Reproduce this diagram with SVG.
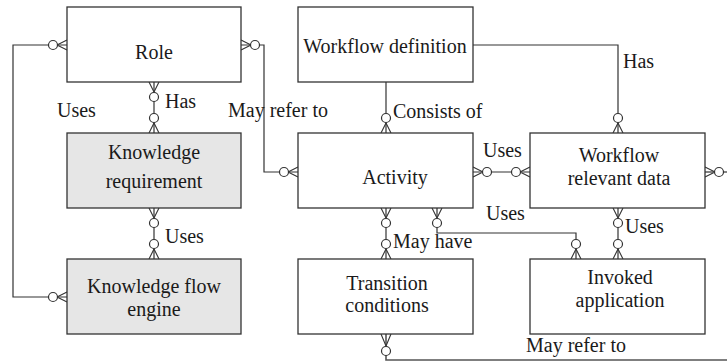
<svg xmlns="http://www.w3.org/2000/svg" width="727" height="362" viewBox="0 0 727 362">
<style>
.box{fill:#fff;stroke:#333;stroke-width:1.3}
.gray{fill:#e6e6e6}
.ln{fill:none;stroke:#333;stroke-width:1.2}
.cf{fill:none;stroke:#333;stroke-width:1.1}
.ci{fill:#fff;stroke:#333;stroke-width:1.2}
.c{text-anchor:middle}
</style>
<rect width="727" height="362" fill="#fff"/>
<g id="connectors">
  <path class="ln" d="M67 45 H13 V297 H67"/>
  <path class="ln" d="M241 45 H264 V172 H298"/>
  <path class="ln" d="M154 82 V133"/>
  <path class="ln" d="M154 208 V259"/>
  <path class="ln" d="M386 82 V133"/>
  <path class="ln" d="M473 45 H618 V133"/>
  <path class="ln" d="M473 172 H530"/>
  <path class="ln" d="M705 172 H727"/>
  <path class="ln" d="M386 208 V259"/>
  <path class="ln" d="M437 208 V233 H576 V259"/>
  <path class="ln" d="M618 208 V259"/>
  <path class="ln" d="M386 334 V360 H727" style="stroke:#555;stroke-width:1.6"/>
  <path class="cf" d="M57 45 L67 40 M57 45 L67 50 M57 297 L67 292 M57 297 L67 302"/>
  <path class="cf" d="M251 45 L241 40 M251 45 L241 50 M288 172 L298 167 M288 172 L298 177"/>
  <path class="cf" d="M154 92 L149 82 M154 92 L159 82 M154 123 L149 133 M154 123 L159 133"/>
  <path class="cf" d="M154 218 L149 208 M154 218 L159 208 M154 249 L149 259 M154 249 L159 259"/>
  <path class="cf" d="M386 123 L381 133 M386 123 L391 133 M618 123 L613 133 M618 123 L623 133"/>
  <path class="cf" d="M483 172 L473 167 M483 172 L473 177 M520 172 L530 167 M520 172 L530 177 M715 172 L705 167 M715 172 L705 177"/>
  <path class="cf" d="M386 218 L381 208 M386 218 L391 208 M386 249 L381 259 M386 249 L391 259"/>
  <path class="cf" d="M437 218 L432 208 M437 218 L442 208 M576 249 L571 259 M576 249 L581 259"/>
  <path class="cf" d="M618 218 L613 208 M618 218 L623 208 M618 249 L613 259 M618 249 L623 259"/>
  <path class="cf" d="M386 346 L381 334 M386 346 L391 334"/>
  <circle class="ci" cx="53" cy="45" r="4.5"/>
  <circle class="ci" cx="53" cy="297" r="4.5"/>
  <circle class="ci" cx="255" cy="45" r="4.5"/>
  <circle class="ci" cx="284" cy="172" r="4.5"/>
  <circle class="ci" cx="154" cy="97" r="4.5"/>
  <circle class="ci" cx="154" cy="118" r="4.5"/>
  <circle class="ci" cx="154" cy="223" r="4.5"/>
  <circle class="ci" cx="154" cy="244" r="4.5"/>
  <circle class="ci" cx="386" cy="118" r="4.5"/>
  <circle class="ci" cx="618" cy="118" r="4.5"/>
  <circle class="ci" cx="487" cy="172" r="4.5"/>
  <circle class="ci" cx="516" cy="172" r="4.5"/>
  <circle class="ci" cx="719" cy="172" r="4.5"/>
  <circle class="ci" cx="386" cy="223" r="4.5"/>
  <circle class="ci" cx="386" cy="244" r="4.5"/>
  <circle class="ci" cx="437" cy="223" r="4.5"/>
  <circle class="ci" cx="576" cy="244" r="4.5"/>
  <circle class="ci" cx="618" cy="223" r="4.5"/>
  <circle class="ci" cx="618" cy="244" r="4.5"/>
  <circle class="ci" cx="386" cy="351" r="4.5"/>
  <g font-family="Liberation Serif" font-size="20" fill="#1a1a1a">
  <text x="57" y="117">Uses</text>
  <text x="165" y="108">Has</text>
  <text x="228" y="117">May refer to</text>
  <text x="165" y="243">Uses</text>
  <text x="393" y="118">Consists of</text>
  <text x="623" y="68">Has</text>
  <text x="483" y="157">Uses</text>
  <text x="486" y="220">Uses</text>
  <text x="625" y="233">Uses</text>
  <text x="393" y="248">May have</text>
  <text x="526" y="352">May refer to</text>
  </g>
</g>
<g id="role" font-family="Liberation Serif" font-size="20" fill="#1a1a1a"><rect class="box" x="67" y="7" width="174" height="75"/><text class="c" x="154" y="59">Role</text></g>
<g id="knowledge-requirement" font-family="Liberation Serif" font-size="20" fill="#1a1a1a"><rect class="box gray" x="67" y="133" width="174" height="75"/><text class="c" x="154" y="159">Knowledge</text><text class="c" x="154" y="188">requirement</text></g>
<g id="knowledge-flow-engine" font-family="Liberation Serif" font-size="20" fill="#1a1a1a"><rect class="box gray" x="67" y="259" width="174" height="75"/><text class="c" x="154" y="293">Knowledge flow</text><text class="c" x="154" y="316">engine</text></g>
<g id="workflow-definition" font-family="Liberation Serif" font-size="20" fill="#1a1a1a"><rect class="box" x="298" y="7" width="175" height="75"/><text class="c" x="385" y="53">Workflow definition</text></g>
<g id="activity" font-family="Liberation Serif" font-size="20" fill="#1a1a1a"><rect class="box" x="298" y="133" width="175" height="75"/><text class="c" x="395" y="184">Activity</text></g>
<g id="workflow-relevant-data" font-family="Liberation Serif" font-size="20" fill="#1a1a1a"><rect class="box" x="530" y="133" width="175" height="75"/><text class="c" x="619" y="162">Workflow</text><text class="c" x="619" y="185">relevant data</text></g>
<g id="transition-conditions" font-family="Liberation Serif" font-size="20" fill="#1a1a1a"><rect class="box" x="298" y="259" width="175" height="75"/><text class="c" x="387" y="290">Transition</text><text class="c" x="387" y="312">conditions</text></g>
<g id="invoked-application" font-family="Liberation Serif" font-size="20" fill="#1a1a1a"><rect class="box" x="530" y="259" width="175" height="75"/><text class="c" x="620" y="284">Invoked</text><text class="c" x="620" y="307">application</text></g>
</svg>
